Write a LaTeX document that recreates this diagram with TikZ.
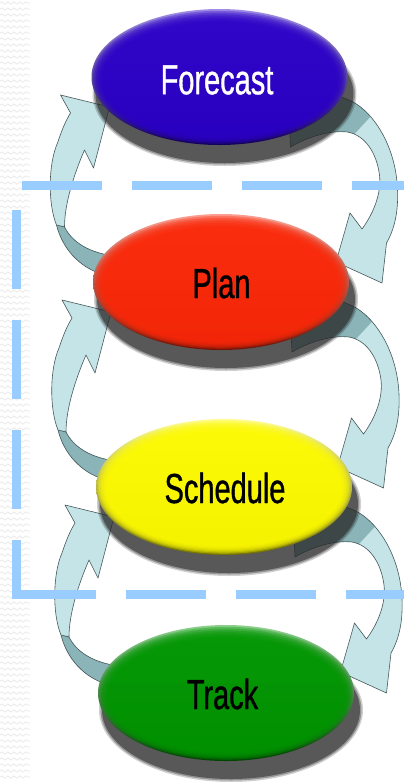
\documentclass[tikz,border=0pt]{standalone}
\usepackage{fontspec}
\newfontfamily\lblfont[FakeStretch=0.69,FakeBold=0.8]{Liberation Sans}
\usetikzlibrary{shapes.geometric,calc,decorations.pathmorphing}

\definecolor{fcol}{RGB}{43,0,200}
\definecolor{pcol}{RGB}{252,40,8}
\definecolor{scol}{RGB}{255,252,0}
\definecolor{tcol}{RGB}{0,150,0}
\definecolor{arrfill}{RGB}{196,228,231}
\definecolor{arrback}{RGB}{138,180,184}
\definecolor{arrline}{RGB}{70,88,90}
\definecolor{dashblue}{RGB}{153,204,255}
\definecolor{shadowc}{RGB}{40,40,40}
\definecolor{texc}{RGB}{232,232,232}

\newcommand\rpathdef{(110,15) -- (127,22) .. controls (150,30) and (176,65) .. (178,112)
  .. controls (179,135) and (175,152) .. (167,166) -- (162.5,206) -- (116.5,185)
  -- (130.5,136) -- (142.5,152) .. controls (155,135) and (162,115) .. (160,98)
  .. controls (157,75) and (145,58) .. (128,55) .. controls (110,53) and (88,60) .. (71,70)
  -- (70,50) -- cycle}
\newcommand\lpathdef{(-118,197) .. controls (-140,190) and (-157,172) .. (-163,148)
  .. controls (-172,126) and (-171,86) .. (-162,66)
  .. controls (-158,54) and (-154,44) .. (-149,36)
  -- (-159,18) -- (-110,30) -- (-126,91) -- (-135,73)
  .. controls (-145,96) and (-155,126) .. (-155,150)
  .. controls (-147,166) and (-129,176) .. (-105,179) -- cycle}

\newcommand\stageshadow[1]{%
  \fill[shadowc, opacity=0.22] ($(#1.center)+(5,17)$) ellipse [x radius=132pt, y radius=72pt];
  \fill[shadowc, opacity=0.35] ($(#1.center)+(5,17)$) ellipse [x radius=130.5pt, y radius=70.5pt];
  \fill[shadowc, opacity=0.55] ($(#1.center)+(5,17)$) ellipse [x radius=129pt, y radius=69pt];
}
\newcommand\stagebody[2]{%
  \shade[top color=#2!45!white, middle color=#2, bottom color=#2!45!black]
    (#1.center) ellipse [x radius=128pt, y radius=68pt];
  \foreach \k in {1,...,7}{
    \fill[#2, opacity=0.33] ($(#1.center)+(0,0.3*\k)$)
      ellipse [x radius={128pt-1.5pt*\k}, y radius={68pt-1.5pt*\k}];
  }
}

\begin{document}
\begin{tikzpicture}[x=1pt,y=-1pt,
  stageshape/.style={ellipse, minimum width=256pt, minimum height=136pt, inner sep=0pt, draw=none},
  lbl/.style={font=\lblfont\fontsize{42}{42}\selectfont, inner sep=0pt},
  arrowbody/.style={fill=arrfill},
  arrowedge/.style={draw=arrline, line width=0.6pt, line join=round},
  dashline/.style={draw=dashblue, line width=9pt, line cap=butt},
  texline/.style={draw=texc, line width=0.7pt, decorate,
    decoration={snake, segment length=6pt, amplitude=1.2pt}},
  rarrow/.pic={
    \path[arrowbody] \rpathdef;
    \begin{scope}
      \clip \rpathdef;
      \fill[arrback] (60,0) -- (140,0) -- (158,32) -- (134,58) -- (60,80) -- cycle;
    \end{scope}
    \path[arrowedge] \rpathdef;
  },
  larrow/.pic={
    \path[arrowbody] \lpathdef;
    \begin{scope}
      \clip \lpathdef;
      \fill[arrback] (-185,147) -- (-155,149) -- (-90,168) -- (-90,230) -- (-185,230) -- cycle;
    \end{scope}
    \path[arrowedge] \lpathdef;
    \draw[arrowedge] (-163,148) -- (-155,150);
  }
]
\useasboundingbox (0,0) rectangle (404,782);
\fill[white] (0,0) rectangle (404,782);

% faint background texture on the left strip
\foreach \yy in {3,9,...,780}{
  \draw[texline] (0,\yy) -- (30,\yy);
}

% stage nodes (positions)
\node[stageshape] (F) at (219.5,77) {};
\node[stageshape] (P) at (221,282) {};
\node[stageshape] (S) at (224,487) {};
\node[stageshape] (T) at (226,693) {};

% curved block arrows (behind the ellipses)
\pic at (F.center) {rarrow};
\pic at (P.center) {rarrow};
\pic at (S.center) {rarrow};
\pic at (F.center) {larrow};
\pic at (P.center) {larrow};
\pic at (S.center) {larrow};

% shadows
\stageshadow{F}
\stageshadow{P}
\stageshadow{S}
\stageshadow{T}

% ellipses
\stagebody{F}{fcol}
\stagebody{P}{pcol}
\stagebody{S}{scol}
\stagebody{T}{tcol}

% labels
\node[lbl, text=white] (Ft) at (217,80) {Forecast};
\node[lbl, text=black] (Pt) at (221.5,283) {Plan};
\node[lbl, text=black] (St) at (225,488) {Schedule};
\node[lbl, text=black] (Tt) at (222.5,694) {Track};

% dashed boundary
\draw[dashline, dash pattern=on 80pt off 30pt] (22,185.5) -- (404,185.5);
\draw[dashline, dash pattern=on 79pt off 31pt] (16.5,210) -- (16.5,598.5);
\draw[dashline, dash pattern=on 84pt off 30pt on 80pt off 30pt on 80pt off 30pt on 80pt off 30pt] (12,594) -- (404,594);
\end{tikzpicture}
\end{document}
